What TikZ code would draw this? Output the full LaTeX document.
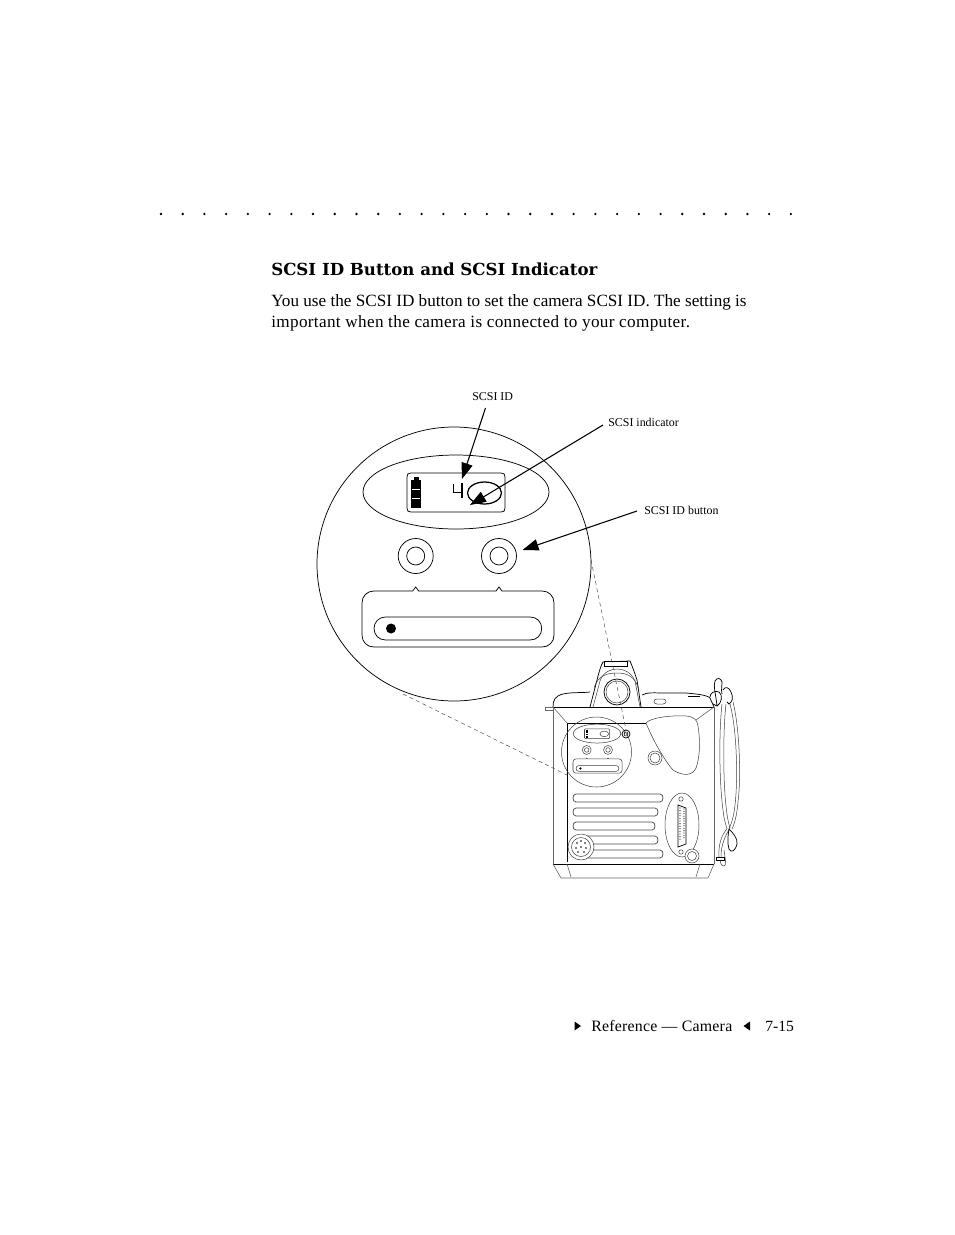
\documentclass[tikz,border=0pt]{standalone}
\usepackage{fontspec}
\setmainfont{Liberation Serif}
\newfontfamily\headfont{DejaVu Serif}
\newfontfamily\spacedfont[LetterSpace=2.0]{Liberation Serif}
\newfontfamily\footfont[LetterSpace=1.5]{Liberation Serif}
\usetikzlibrary{arrows.meta}
\tikzset{
  ln/.style={draw=black,line width=0.55pt},
  thin ln/.style={draw=black!75,line width=0.38pt},
  gray ln/.style={draw=black!60,line width=0.45pt},
  dark ln/.style={draw=black,line width=0.7pt},
  pointer/.style={draw=black,line width=0.8pt,-{Triangle[length=12pt,width=8.5pt]}},
  lead/.style={draw=black!70,line width=0.35pt,dash pattern=on 3pt off 2.4pt},
  body/.style={anchor=base west,inner sep=0pt,font=\fontsize{12.87pt}{15pt}\selectfont},
  tiny label/.style={anchor=base west,inner sep=0pt,font=\fontsize{8.95pt}{10pt}\selectfont},
  head/.style={anchor=base west,inner sep=0pt,font=\headfont\bfseries\fontsize{12.45pt}{14pt}\selectfont}
}
\newcommand{\faceplate}[2]{%
  \draw[#1] (456,492) ellipse [x radius=93,y radius=37];
  \draw[#1] (411,473) -- (501,473) .. controls (504,473) and (505,474) .. (505,477) -- (505,508) .. controls (505,511) and (504,512) .. (501,512) -- (411,512) .. controls (408,512) and (407,511) .. (407,508) -- (407,477) .. controls (407,474) and (408,473) .. (411,473) -- cycle;
  \fill[black] (413.5,477) rectangle (418.5,479.5);
  \fill[black] (411,479.5) rectangle (421,508);
  \draw[white,line width=0.45pt] (412.2,489) -- (419.8,489) (412.2,498.5) -- (419.8,498.5);
  \draw[#2] (484.5,493) ellipse [x radius=17,y radius=11];
  \draw[#1] (415.7,556) circle [radius=17.5] (415.7,556) circle [radius=9];
  \draw[#1] (499,556) circle [radius=17.5] (499,556) circle [radius=9];
  \draw[#1] (374,591) -- (412.7,591) -- (415.7,587) -- (418.7,591) -- (496,591) -- (499,587) -- (502,591) -- (542,591) .. controls (549,591) and (554,596) .. (554,603) -- (554,635) .. controls (554,642) and (549,647) .. (542,647) -- (374,647) .. controls (367,647) and (362,642) .. (362,635) -- (362,603) .. controls (362,596) and (367,591) .. (374,591) -- cycle;
  \draw[#1] (385.5,617) -- (530,617) .. controls (537,617) and (541.7,622) .. (541.7,628.5) .. controls (541.7,635) and (537,640) .. (530,640) -- (385.5,640) .. controls (379,640) and (374,635) .. (374,628.5) .. controls (374,622) and (379,617) .. (385.5,617) -- cycle;
  \fill[black] (391,628.5) circle [radius=5];
}
\begin{document}
\begin{tikzpicture}[x=0.75pt,y=-0.75pt]
\useasboundingbox (0,0) rectangle (954,1235);
\fill[white] (0,0) rectangle (954,1235);
% dotted rule
\foreach \i in {0,...,29} \fill[black] ({161+\i*21.72},214) circle [radius=1.3];
% text
\node[head] (title) at (271,275) {SCSI ID Button and SCSI Indicator};
\node[body] (para1) at (271,306.5) {You use the SCSI ID button to set the camera SCSI ID. The setting is};
\node[body,font=\spacedfont\fontsize{12.87pt}{15pt}\selectfont] (para2) at (271,327) {important when the camera is connected to your computer.};
% labels
\node[tiny label] (idlabel) at (472,400) {SCSI ID};
\node[tiny label] (indlabel) at (608,426) {SCSI indicator};
\node[tiny label] (btnlabel) at (644,514) {SCSI ID button};
% big magnified circle
\draw[ln] (454,564) circle [radius=137];
\faceplate{ln}{dark ln,line width=0.95pt}
\draw[line width=1pt,black] (453.5,484) -- (453.5,492.5) -- (462,492.5) (462,483) -- (462,498);
% leader lines
\coordinate (leadAa) at (591,560);
\coordinate (leadAb) at (626,730);
\coordinate (leadBa) at (403,694);
\coordinate (leadBb) at (567,775);
% camera body
\draw[gray ln] (553,707) -- (553,864);
\draw[gray ln] (714,707) -- (714,864);
\draw[dark ln,line width=0.65pt] (553,707) -- (714,707);
\draw[dark ln] (553,864) -- (714,864);
\draw[gray ln] (553,864) -- (561,878) -- (708,878) -- (714,864);
\draw[gray ln] (567,864) -- (571,877) (700,864) -- (696,877);
\draw[gray ln] (545,707) rectangle (553,710);
\draw[ln] (553,707) .. controls (553,700) and (555,696) .. (563,694) .. controls (572,692) and (582,693) .. (590,692);
\draw[ln] (590,707) -- (597,680) .. controls (599,672) and (601,665) .. (603,662) -- (630,661) .. controls (633,668) and (635,674) .. (637,680) -- (641,707);
\draw[thin ln] (593,707) -- (600,681) .. controls (603,672) and (611,669) .. (617,669) .. controls (624,669) and (631,672) .. (635,681) -- (640,707);
\draw[thin ln] (594,688) .. controls (598,675) and (608,673) .. (617,673) .. controls (627,673) and (635,676) .. (639,690);
\draw[ln,fill=white] (604,661) rectangle (627,666);
\draw[ln] (617,692) circle [radius=13];
\draw[thin ln] (617,692) circle [radius=11];
\draw[ln] (642,695) .. controls (647,692) and (655,693) .. (665,693) -- (686,693) .. controls (697,694) and (707,695) .. (710,698) -- (714,707);
\fill[black] (688,695.5) rectangle (700,697);
\draw[thin ln] (657,699) -- (663,699) .. controls (667,699) and (667,704) .. (663,704) -- (657,704) .. controls (653,704) and (653,699) .. (657,699) -- cycle;
\draw[gray ln] (553,707) -- (567,723) (714,707) -- (696,720);
\draw[dark ln,line width=0.6pt] (567,723) -- (646,723) (567,723) -- (567,862);
% hump
\draw[thin ln] (646,723) .. controls (650,718) and (670,715) .. (686,716) .. controls (695,717) and (697,720) .. (698,726) .. controls (701,745) and (699,760) .. (696,768) .. controls (693,775) and (684,777) .. (673,770);
\draw[thin ln] (646,723) .. controls (652,738) and (664,760) .. (673,770);
\draw[thin ln] (655,758) circle [radius=7];
\draw[thin ln] (655,758) circle [radius=5];
% miniature of the magnified circle
\draw[thin ln] (596.5,752) circle [radius=35];
\begin{scope}[shift={(596.5,752)},scale=0.2555,shift={(-454,-564)}]
\faceplate{thin ln}{thin ln}
\end{scope}
\draw[ln] (626,734) circle [radius=4];
\draw[thin ln] (626,734) circle [radius=2];
\draw[thin ln] (624.5,732) -- (624.5,736) (627.5,732) -- (627.5,736);
% slots
\foreach \yy/\xe in {798/664,812/659,826/656,840/659,854/664}
  \draw[ln,draw=black!70] (576,\yy-4) -- (\xe-4,\yy-4) .. controls (\xe,\yy-4) and (\xe,\yy+4) .. (\xe-4,\yy+4) -- (576,\yy+4) .. controls (572,\yy+4) and (572,\yy-4) .. (576,\yy-4) -- cycle;
% round port
\draw[thin ln,fill=white] (581,847) circle [radius=13];
\draw[thin ln] (581,847) circle [radius=9.5];
\foreach \a/\b in {577/843,581/841,585/843,576/848,581/847,586/848,578/852,584/852}
  \fill[black] (\a,\b) circle [radius=0.9];
% oval port
\draw[thin ln] (682,825) ellipse [x radius=17,y radius=32];
\draw[ln] (678,805) -- (686,808) -- (686,844) -- (678,847) -- cycle;
\foreach \i in {0,...,12} \fill[black!80] (680,{808+\i*2.6}) circle [radius=0.65] (684,{809+\i*2.4}) circle [radius=0.65];
\draw[thin ln] (681,799) circle [radius=2.2] (681,852) circle [radius=2.2];
\draw[thin ln,fill=white] (692,856) circle [radius=7];
\draw[thin ln] (692,856) circle [radius=4.5];
% strap
\draw[ln] (717,706) .. controls (716,695) and (713,686) .. (715,681) .. controls (717,677) and (721,678) .. (722,682) .. controls (722,686) and (721,690) .. (722,694);
\draw[ln] (710,697) .. controls (710,693) and (715,690) .. (719,692) .. controls (723,695) and (722,703) .. (717,706) -- (713,704);
\draw[ln] (723,690) .. controls (725,686) and (729,687) .. (731,692) .. controls (734,698) and (732,702) .. (729,704) -- (727,702);
\draw[thin ln] (722,704) .. controls (719,730) and (719,780) .. (723,810) .. controls (724,820) and (726,825) .. (727,829);
\draw[thin ln] (726,704) .. controls (723,730) and (723,780) .. (726,806) .. controls (727,815) and (728,822) .. (730,828);
\draw[thin ln] (730,704) .. controls (737,730) and (738,780) .. (735,805) .. controls (734,815) and (732,822) .. (729,829);
\draw[thin ln] (733,702) .. controls (740,730) and (741,780) .. (738,802) .. controls (737,812) and (736,820) .. (732,829);
\draw[thin ln] (727,829) .. controls (722,834) and (718,845) .. (719,857) (730,828) .. controls (725,836) and (721,845) .. (721,857);
\draw[ln] (729,829) .. controls (732,832) and (738,838) .. (737,844) .. controls (736,850) and (731,854) .. (729,849) .. controls (727,843) and (728,835) .. (729,829);
\draw[thin ln] (724,850) .. controls (725,858) and (727,866) .. (724,866) .. controls (721,866) and (720,862) .. (720,860);
\draw[dark ln,fill=white] (716,857) rectangle (724,860);
% dashed leaders
\draw[lead] (leadAa) -- (leadAb);
\draw[lead] (leadBa) -- (leadBb);
% pointers
\coordinate (idtip) at (462,479);
\coordinate (indtip) at (470,505);
\coordinate (btntip) at (522.5,550);
\coordinate (idfrom) at (485.5,408);
\coordinate (indfrom) at (603,425);
\coordinate (btnfrom) at (637,511);
\draw[pointer] (idfrom) -- (idtip);
\draw[pointer] (indfrom) -- (indtip);
\draw[pointer] (btnfrom) -- (btntip);
% footer
\fill[black] (574.5,1021.5) -- (581,1026) -- (574.5,1030.5) -- cycle;
\node[body,font=\footfont\fontsize{11.9pt}{14pt}\selectfont] (ref) at (591,1031) {Reference — Camera};
\fill[black] (750,1021.5) -- (743.5,1026) -- (750,1030.5) -- cycle;
\node[body,font=\fontsize{11.7pt}{14pt}\selectfont] (page) at (765,1031) {7-15};
\end{tikzpicture}
\end{document}
